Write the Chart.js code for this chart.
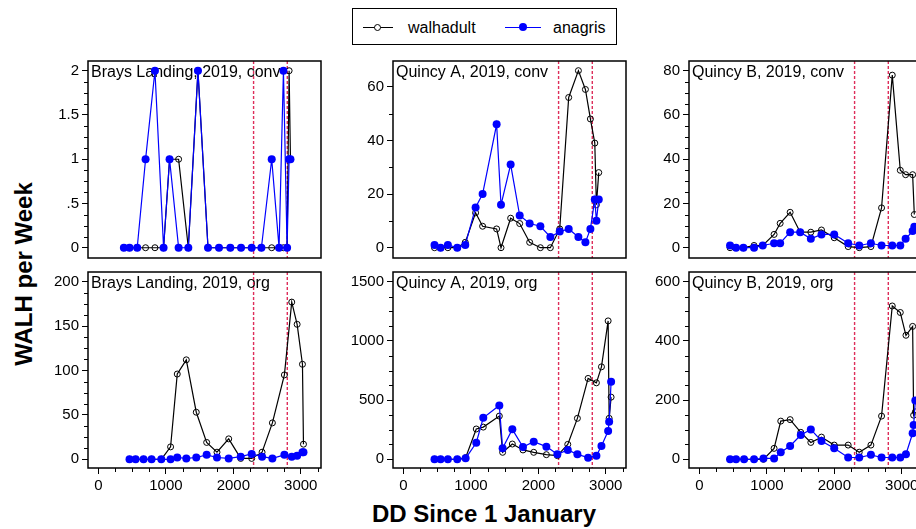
<!DOCTYPE html>
<html>
<head>
<meta charset="utf-8">
<script src="https://cdn.jsdelivr.net/npm/chart.js@4.4.0/dist/chart.umd.min.js"></script>
<style>
html, body { margin: 0; padding: 0; background: #fff; }
body { width: 916px; height: 529px; overflow: hidden; position: relative; font-family: "Liberation Sans", Arial, sans-serif; color: #000; }
canvas { position: absolute; }
#ytitle { position: absolute; left: -176px; top: 262px; width: 400px; height: 24px; line-height: 24px; text-align: center;
  font-size: 24px; font-weight: bold; transform: rotate(-90deg); white-space: nowrap; }
#xtitle { position: absolute; left: 284px; top: 502px; width: 400px; line-height: 24px; text-align: center;
  font-size: 24px; font-weight: bold; white-space: nowrap; }
#legend { position: absolute; left: 352px; top: 8px; width: 265px; height: 37px; border: 1px solid #000; box-sizing: border-box; }
.lg { position: absolute; }
.txt { font-size: 16px; line-height: 18px; top: 10px; }
</style>
</head>
<body>
<div id="legend">
  <div class="lg" style="left:10px;top:18px;width:30px;height:1px;background:#000"></div>
  <div class="lg" style="left:21px;top:15px;width:5px;height:5px;border:1px solid #000;border-radius:50%;background:#fff"></div>
  <div class="lg txt" style="left:55px">walhadult</div>
  <div class="lg" style="left:152px;top:18px;width:36px;height:1px;background:#0000ff"></div>
  <div class="lg" style="left:166px;top:14px;width:8px;height:8px;border-radius:50%;background:#0000ff"></div>
  <div class="lg txt" style="left:200px">anagris</div>
</div>
<div id="ytitle">WALH per Week</div>
<div id="xtitle">DD Since 1 January</div>
<script>
// x axis (degree days)
const xTicks = [0, 1000, 2000, 3000];
const xMinorStep = 250;
const ddLines = [2300, 2800];

// Brays Landing, conv
const braysConvDD = [376, 460, 574, 698, 837, 965, 1054, 1188, 1332, 1475, 1624, 1787, 1955, 2114, 2272, 2416, 2569, 2678, 2743, 2797, 2827, 2847];
const braysConvWalh = [0, 0, 0, 0, 0, 0, 1, 1, 0, 2, 0, 0, 0, 0, 0, 0, 0, 0, 0, 0, 2, 1];
const braysConvAna = [0, 0, 0, 1, 2, 0, 1, 0, 0, 2, 0, 0, 0, 0, 0, 0, 1, 0, 2, 0, 1, 1];

// Brays Landing, org
const braysOrgDD = [460, 550, 668, 787, 931, 1069, 1168, 1302, 1450, 1604, 1757, 1931, 2109, 2272, 2426, 2579, 2757, 2866, 2946, 3025, 3040];
const braysOrgWalh = [0, 0, 0, 0, 0, 14, 96, 112, 53, 19, 8, 23, 1, 1, 8, 41, 95, 177, 152, 107, 17];
const braysOrgAna = [0, 0, 0, 0, 0, 0, 2, 1, 2, 5, 2, 1, 3, 6, 3, 1, 5, 3, 4, 8, 8];

// Quincy A, conv
const quincyAConvDD = [460, 550, 658, 797, 916, 1069, 1173, 1381, 1446, 1589, 1723, 1871, 2030, 2178, 2317, 2450, 2594, 2698, 2772, 2837, 2861, 2896];
const quincyAConvWalh = [0, 0, 0, 0, 2, 13, 8, 7, 0, 11, 9, 2, 0, 0, 7, 56, 66, 59, 48, 39, 16, 28];
const quincyAConvAna = [1, 0, 1, 0, 1, 15, 20, 46, 16, 31, 12, 9, 8, 4, 6, 7, 4, 2, 7, 18, 10, 18];

// Quincy A, org
const quincyAOrgDD = [460, 550, 658, 797, 921, 1079, 1183, 1421, 1470, 1614, 1772, 1931, 2119, 2282, 2436, 2579, 2738, 2861, 2936, 3035, 3050, 3079];
const quincyAOrgWalh = [0, 0, 0, 0, 14, 256, 272, 365, 59, 129, 79, 59, 39, 31, 126, 346, 683, 646, 781, 1169, 346, 525];
const quincyAOrgAna = [0, 0, 0, 0, 8, 140, 351, 455, 93, 253, 104, 149, 107, 42, 79, 42, 14, 31, 112, 239, 317, 654];

// Quincy B, conv
const quincyBConvDD = [453, 542, 651, 809, 938, 1106, 1196, 1344, 1493, 1651, 1809, 1998, 2205, 2369, 2542, 2700, 2859, 2978, 3057, 3161, 3186];
const quincyBConvWalh = [0, 0, 0, 1, 1, 6, 11, 16, 7, 7, 8, 4.5, 0.5, 0, 0.5, 18, 78, 35, 33, 33, 15];
const quincyBConvAna = [1, 0, 0, 0, 1, 2, 2, 7, 7, 4, 6, 6, 2, 1, 2, 1, 1, 1, 4, 7.5, 9.5];

// Quincy B, org
const quincyBOrgDD = [453, 542, 661, 809, 948, 1106, 1205, 1344, 1502, 1651, 1809, 1998, 2205, 2369, 2542, 2700, 2859, 2978, 3062, 3161, 3176, 3201];
const quincyBOrgWalh = [0, 0, 0, 0, 0, 37, 129, 134, 91, 57, 75, 48, 48, 24, 48, 146, 518, 496, 419, 449, 149, 160];
const quincyBOrgAna = [0, 0, 0, 0, 3, 3, 24, 45, 82, 101, 62, 37, 6, 6, 15, 6, 6, 6, 17, 88, 116, 199];

const panels = [
  { title: 'Brays Landing, 2019, conv', dd: braysConvDD, walh: braysConvWalh, ana: braysConvAna,
    yMin: -0.116, yMax: 2.11, yTicks: [0, 0.5, 1, 1.5, 2], yLabels: ['0', '.5', '1', '1.5', '2'], yMinor: 0.125, col: 0, row: 0 },
  { title: 'Quincy A, 2019, conv', dd: quincyAConvDD, walh: quincyAConvWalh, ana: quincyAConvAna,
    yMin: -3.84, yMax: 69.6, yTicks: [0, 20, 40, 60], yLabels: ['0', '20', '40', '60'], yMinor: 10, col: 1, row: 0 },
  { title: 'Quincy B, 2019, conv', dd: quincyBConvDD, walh: quincyBConvWalh, ana: quincyBConvAna,
    yMin: -4.66, yMax: 84.4, yTicks: [0, 20, 40, 60, 80], yLabels: ['0', '20', '40', '60', '80'], yMinor: 5, col: 2, row: 0 },
  { title: 'Brays Landing, 2019, org', dd: braysOrgDD, walh: braysOrgWalh, ana: braysOrgAna,
    yMin: -9.8, yMax: 210.9, yTicks: [0, 50, 100, 150, 200], yLabels: ['0', '50', '100', '150', '200'], yMinor: 12.5, col: 0, row: 1 },
  { title: 'Quincy A, 2019, org', dd: quincyAOrgDD, walh: quincyAOrgWalh, ana: quincyAOrgAna,
    yMin: -73.5, yMax: 1582, yTicks: [0, 500, 1000, 1500], yLabels: ['0', '500', '1000', '1500'], yMinor: 125, col: 1, row: 1 },
  { title: 'Quincy B, 2019, org', dd: quincyBOrgDD, walh: quincyBOrgWalh, ana: quincyBOrgAna,
    yMin: -29.4, yMax: 632.8, yTicks: [0, 200, 400, 600], yLabels: ['0', '200', '400', '600'], yMinor: 50, col: 2, row: 1 }
];

const FONT = '"Liberation Sans", Arial, sans-serif';
Chart.defaults.font.family = FONT;
Chart.defaults.color = '#000';

const FRAME_LEFT = [88, 393, 689];
const FRAME_TOP = [61, 272];
const FRAME_H = [197, 196];
const FRAME_W = 233;
// vertical pad has to exceed half a tick label, or chart.js pushes the plot area in
const AXW = 52, PAD = 6, VPAD = 14, XAXH = 34;

function minorTicks(ctx, scale, step, majors, a, horizontal) {
  const start = Math.ceil(scale.min / step) * step;
  ctx.beginPath();
  for (let v = start; v <= scale.max + 1e-9; v += step) {
    const val = Math.round(v * 1000) / 1000;
    if (majors.some(t => Math.abs(t - val) < 1e-9)) continue;
    const px = Math.round(scale.getPixelForValue(val)) + 0.5;
    if (horizontal) {
      ctx.moveTo(px, a.bottom); ctx.lineTo(px, a.bottom + 4);
    } else {
      ctx.moveTo(a.left - 4, px); ctx.lineTo(a.left, px);
    }
  }
  ctx.stroke();
}

const panelPlugin = {
  id: 'panel',
  beforeDatasetsDraw(chart, args, opts) {
    const ctx = chart.ctx, a = chart.chartArea, x = chart.scales.x;
    ctx.save();
    ctx.fillStyle = '#000';
    ctx.font = '16px ' + FONT;
    ctx.textBaseline = 'alphabetic';
    ctx.fillText(opts.title, a.left + 3, a.top + 16);
    ctx.strokeStyle = 'rgb(222,45,90)';
    ctx.lineWidth = 1.4;
    ctx.setLineDash([3, 2]);
    ddLines.forEach(v => {
      const px = x.getPixelForValue(v);
      ctx.beginPath(); ctx.moveTo(px, a.top); ctx.lineTo(px, a.bottom); ctx.stroke();
    });
    ctx.restore();
  },
  afterDraw(chart, args, opts) {
    const ctx = chart.ctx, a = chart.chartArea;
    ctx.save();
    ctx.strokeStyle = '#000';
    ctx.lineWidth = 1;
    minorTicks(ctx, chart.scales.y, opts.yMinor, opts.yTicks, a, false);
    if (opts.bottom) minorTicks(ctx, chart.scales.x, xMinorStep, xTicks, a, true);
    ctx.lineWidth = 1.5;
    ctx.strokeRect(a.left, a.top, a.right - a.left, a.bottom - a.top);
    ctx.restore();
  }
};

panels.forEach(p => {
  const bottom = p.row === 1;
  const cv = document.createElement('canvas');
  const w = AXW + FRAME_W + PAD;
  const h = VPAD + FRAME_H[p.row] + (bottom ? XAXH : VPAD);
  cv.width = w; cv.height = h;
  cv.style.left = (FRAME_LEFT[p.col] - AXW) + 'px';
  cv.style.top = (FRAME_TOP[p.row] - VPAD) + 'px';
  cv.style.width = w + 'px'; cv.style.height = h + 'px';
  document.body.appendChild(cv);

  new Chart(cv, {
    type: 'line',
    data: {
      datasets: [
        { label: 'walhadult', data: p.dd.map((d, i) => ({ x: d, y: p.walh[i] })),
          borderColor: '#000', borderWidth: 1.2, pointRadius: 3, pointBorderWidth: 1,
          pointBorderColor: '#000', pointBackgroundColor: 'rgba(0,0,0,0)', order: 1 },
        { label: 'anagris', data: p.dd.map((d, i) => ({ x: d, y: p.ana[i] })),
          borderColor: '#0000ff', borderWidth: 1.2, pointRadius: 4, pointBorderWidth: 0,
          pointBorderColor: '#0000ff', pointBackgroundColor: '#0000ff', order: 0 }
      ]
    },
    options: {
      responsive: false,
      animation: false,
      events: [],
      layout: { autoPadding: false, padding: { left: 0, top: VPAD, right: PAD, bottom: bottom ? 0 : VPAD } },
      plugins: {
        legend: { display: false },
        tooltip: { enabled: false },
        panel: { title: p.title, yMinor: p.yMinor, yTicks: p.yTicks, bottom: bottom }
      },
      scales: {
        x: {
          type: 'linear', min: -156, max: 3300, display: bottom,
          afterBuildTicks: s => { s.ticks = xTicks.map(v => ({ value: v })); },
          afterFit: s => { if (bottom) s.height = XAXH; },
          grid: { drawOnChartArea: false, tickLength: 6, color: '#000', lineWidth: 1 },
          border: { display: false },
          ticks: { color: '#000', font: { size: 15 }, padding: 3, maxRotation: 0, autoSkip: false,
                   callback: v => String(v) }
        },
        y: {
          type: 'linear', min: p.yMin, max: p.yMax,
          afterBuildTicks: s => { s.ticks = p.yTicks.map(v => ({ value: v })); },
          afterFit: s => { s.width = AXW; },
          grid: { drawOnChartArea: false, tickLength: 6, color: '#000', lineWidth: 1 },
          border: { display: false },
          ticks: { color: '#000', font: { size: 15 }, padding: 3, autoSkip: false,
                   callback: (v, i) => p.yLabels[i] }
        }
      }
    },
    plugins: [panelPlugin]
  });
});
</script>
</body>
</html>
